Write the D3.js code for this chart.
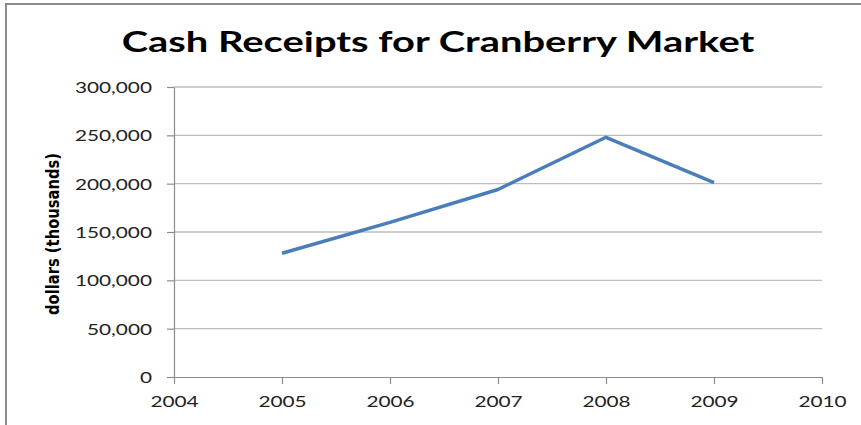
<!DOCTYPE html>
<html>
<head>
<meta charset="utf-8">
<script src="https://cdn.jsdelivr.net/npm/d3@7"></script>
<style>
  body { margin: 0; background: #fff; }
  #chart { width: 861px; height: 425px; }
  .tick text { font-family: Lato, "Open Sans", sans-serif; font-size: 16px; fill: #222; }
</style>
</head>
<body>
<div id="chart"></div>
<script>
// Chart data
const years = [2005, 2006, 2007, 2008, 2009];
const receipts = [128000, 160000, 194000, 248000, 201000];
const xTicks = [2004, 2005, 2006, 2007, 2008, 2009, 2010];
const yTicks = [0, 50000, 100000, 150000, 200000, 250000, 300000];

const title = 'Cash Receipts for Cranberry Market';
const yLabel = 'dollars (thousands)';

const width = 861;
const height = 425;
const margin = { top: 87, right: 39, bottom: 48, left: 174 };

const svg = d3.select('#chart')
  .append('svg')
  .attr('width', width)
  .attr('height', height);

// Frame around chart area (only top and left edges show)
svg.append('path')
  .attr('d', `M6,${height} L6,4 L${width},4`)
  .attr('fill', 'none')
  .attr('stroke', '#8c8c8c')
  .attr('stroke-width', 2);

const x = d3.scaleLinear()
  .domain([2004, 2010])
  .range([margin.left, width - margin.right]);

const y = d3.scaleLinear()
  .domain([0, 300000])
  .range([height - margin.bottom, margin.top]);

// Horizontal gridlines
svg.append('g')
  .selectAll('line')
  .data(yTicks.filter((d) => d > 0))
  .enter()
  .append('line')
  .attr('x1', x(2004))
  .attr('x2', x(2010))
  .attr('y1', (d) => y(d))
  .attr('y2', (d) => y(d))
  .attr('stroke', '#bdbdbd')
  .attr('stroke-width', 1.3);

// Y axis
const yAxis = svg.append('g')
  .attr('transform', `translate(${margin.left},0)`)
  .call(d3.axisLeft(y).tickValues(yTicks).tickSize(7).tickSizeOuter(0).tickFormat(d3.format(',')));

yAxis.selectAll('text')
  .attr('x', 0)
  .attr('dy', '0.35em')
  .attr('transform', 'translate(-22,0) scale(1.3,1)');

// X axis
const xAxis = svg.append('g')
  .attr('transform', `translate(0,${height - margin.bottom})`)
  .call(d3.axisBottom(x).tickValues(xTicks).tickSize(7).tickSizeOuter(0).tickFormat(d3.format('d')));

xAxis.selectAll('text')
  .attr('y', 0)
  .attr('dy', 0)
  .attr('transform', 'translate(0,30) scale(1.3,1)');

svg.selectAll('.domain, .tick line')
  .attr('stroke', '#8c8c8c')
  .attr('stroke-width', 1.2);

// Data line
const line = d3.line()
  .x((d, i) => x(years[i]))
  .y((d) => y(d));

svg.append('path')
  .datum(receipts)
  .attr('d', line)
  .attr('fill', 'none')
  .attr('stroke', '#4a7ebb')
  .attr('stroke-width', 3.5)
  .attr('stroke-linejoin', 'round');

// Title, stretched to the width it has in the reference
const titleText = svg.append('text')
  .attr('text-anchor', 'middle')
  .attr('font-family', 'Lato, "Open Sans", sans-serif')
  .attr('font-weight', 'bold')
  .attr('font-size', 28)
  .attr('fill', '#000')
  .text(title);
const titleW = titleText.node().getComputedTextLength();
titleText.attr('transform', `translate(438,52) scale(${633 / titleW},1)`);

// Y axis label
const yLabelText = svg.append('text')
  .attr('text-anchor', 'middle')
  .attr('font-family', '"Liberation Sans Narrow", "DejaVu Sans Condensed", sans-serif')
  .attr('font-weight', 'bold')
  .attr('font-size', 17)
  .attr('fill', '#000')
  .text(yLabel);
const labelW = yLabelText.node().getComputedTextLength();
yLabelText.attr('transform', `translate(59,234) rotate(-90) scale(${162 / labelW},1)`);
</script>
</body>
</html>
